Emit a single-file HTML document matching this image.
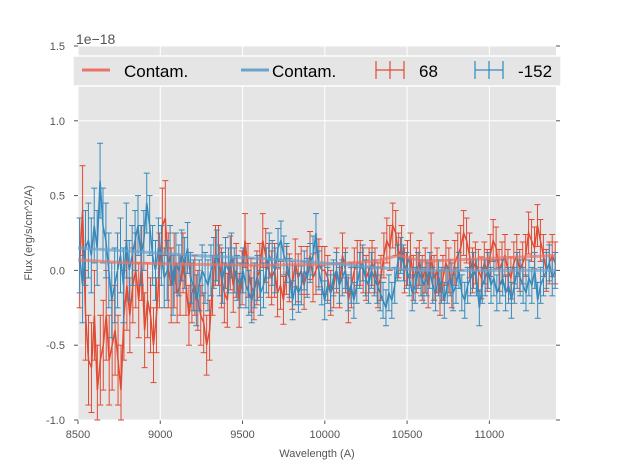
<!DOCTYPE html>
<html><head><meta charset="utf-8"><style>
html,body{margin:0;padding:0;background:#fff}
svg{display:block;font-family:"Liberation Sans","DejaVu Sans",sans-serif}
</style></head><body>
<svg id="chart" width="617" height="467" viewBox="0 0 617 467"></svg>
<script>
// ---- data (flux in 1e-18 erg/s/cm^2/A) ----
const xTicks=[8500,9000,9500,10000,10500,11000];
const yTicks=[-1.0,-0.5,0.0,0.5,1.0,1.5];
const yTickLabels=["−1.0","−0.5","0.0","0.5","1.0","1.5"];
const waveStart=8510, waveEnd=11400;
const red68=[0.05,0.4,-0.3,-0.6,-0.65,-0.3,-0.8,-0.6,
-0.5,-0.3,-0.6,-0.5,-0.4,-0.6,-0.8,-0.3,
-0.1,-0.3,-0.1,0.0,-0.2,0.05,-0.4,-0.2,-0.3,-0.5,-0.3,0.0,0.3,
0.35,0.0,-0.1,0.0,-0.15,-0.1,0.05,-0.1,-0.3,-0.15,-0.1,
-0.2,-0.3,-0.35,-0.5,-0.4,-0.1,0.1,0.1,-0.05,-0.15,-0.2,
0.05,-0.1,0.0,-0.2,-0.05,0.2,0.0,-0.1,-0.15,-0.05,0.0,
0.2,0.1,0.0,-0.05,0.0,-0.15,-0.1,-0.2,0.0,-0.05,-0.1,
0.05,-0.05,0.0,-0.1,0.0,0.1,-0.05,0.0,0.05,0.0,0.0,
-0.05,-0.15,-0.1,0.0,-0.1,0.1,0.0,-0.2,-0.1,0.0,0.05,
0.05,0.0,-0.05,0.0,0.05,0.0,-0.1,-0.05,0.1,0.2,0.15,
0.3,0.25,0.1,0.15,0.0,0.05,0.1,-0.05,0.0,0.05,-0.05,0.0,
-0.1,0.1,-0.05,0.0,-0.15,-0.05,0.05,0.0,-0.1,0.05,0.1,
0.15,0.25,0.2,0.1,0.0,0.05,0.0,-0.05,0.05,0.0,0.1,
0.2,0.15,0.0,0.05,0.1,0.0,-0.05,0.05,0.1,0.0,0.05,
0.1,0.25,0.2,0.15,0.3,0.2,0.1,0.0,0.05,0.1,0.05];
const blue152=[0.1,-0.1,0.15,0.2,0.1,0.3,0.15,
0.6,0.3,0.2,0.0,-0.2,-0.1,0.0,
0.1,-0.1,0.2,0.0,0.1,0.2,0.3,0.1,0.2,0.45,0.3,
0.1,0.0,0.15,0.1,-0.05,0.0,0.1,-0.1,0.05,0.0,0.1,
0.05,0.15,-0.05,-0.1,-0.2,-0.1,0.0,-0.05,-0.1,0.0,0.05,
0.1,0.0,-0.05,0.05,0.0,0.1,0.0,-0.05,-0.1,0.0,-0.1,
-0.15,-0.2,-0.1,-0.05,-0.15,-0.1,0.0,0.1,0.05,0.0,0.15,
0.2,0.1,0.05,-0.05,-0.2,-0.1,-0.15,-0.1,0.0,-0.05,0.05,
0.1,0.25,0.0,-0.1,-0.2,-0.1,-0.15,-0.05,0.0,-0.1,-0.05,
0.0,-0.15,-0.1,-0.2,-0.1,0.0,0.05,-0.05,-0.1,0.0,-0.05,
-0.1,-0.15,-0.2,-0.25,-0.15,-0.2,-0.1,0.05,0.1,0.05,0.0,
-0.05,-0.15,-0.1,0.0,-0.05,-0.1,-0.05,0.0,-0.1,-0.15,-0.05,
-0.1,-0.2,-0.1,-0.05,-0.15,-0.1,0.0,-0.15,-0.2,-0.1,-0.05,
0.0,-0.05,-0.25,-0.1,-0.05,0.0,-0.1,-0.05,-0.15,-0.1,-0.05,
-0.15,-0.1,-0.2,-0.1,0.0,-0.05,-0.1,-0.15,-0.05,-0.1,0.0,
-0.2,-0.1,-0.05,0.0,0.05,-0.05,0.0];
const errBinWave=[8500,8800,9100,9400,9700,10000,10300,10600,10900,11200];
const redErr=[0.3,0.25,0.2,0.18,0.16,0.15,0.15,0.15,0.14,0.14];
const blueErr=[0.25,0.2,0.17,0.15,0.13,0.12,0.12,0.12,0.12,0.12];
const contamWave=[8500,8800,9200,9600,10000,10300,10450,10600,11000,11400];
const redContam=[0.07,0.05,0.04,0.035,0.04,0.06,0.1,0.06,0.08,0.1];
const blueContam=[0.15,0.13,0.1,0.08,0.05,0.02,0.01,0.0,0.0,0.0];

const NS="http://www.w3.org/2000/svg";
const svg=document.getElementById('chart');
const L=78,R=556,T=46,B=420;
const xMin=8500,xMax=11405,yMin=-1.0,yMax=1.5;
const sx=v=>L+(v-xMin)/(xMax-xMin)*(R-L);
const sy=v=>B-(v-yMin)/(yMax-yMin)*(B-T);
function mk(tag,attrs,parent){const e=document.createElementNS(NS,tag);for(const k in attrs)e.setAttribute(k,attrs[k]);(parent||svg).appendChild(e);return e;}
function errAt(arr,w){let v=arr[0];for(let i=0;i<errBinWave.length;i++){if(w>=errBinWave[i])v=arr[i];}return v;}

const bg=mk('rect',{x:L,y:T,width:R-L,height:B-T,fill:'#e5e5e5'});


xTicks.forEach(t=>{
  const g=mk('line',{x1:sx(t),x2:sx(t),y1:T,y2:B,stroke:'#fff','stroke-width':1});
  
  
  mk('line',{x1:sx(t),x2:sx(t),y1:B,y2:B+4,stroke:'#555'});
  const lb=mk('text',{x:sx(t),y:B+18,'text-anchor':'middle','font-size':11,fill:'#555'});
  lb.textContent=t;
  
  
});
yTicks.forEach((t,i)=>{
  const g=mk('line',{x1:L,x2:R,y1:sy(t),y2:sy(t),stroke:'#fff','stroke-width':1});
  
  
  mk('line',{x1:L-4,x2:L,y1:sy(t),y2:sy(t),stroke:'#555'});
  mk('line',{x1:R,x2:R+4,y1:sy(t),y2:sy(t),stroke:'#555'});
  const lb=mk('text',{x:L-13,y:sy(t)+4,'text-anchor':'end','font-size':11,fill:'#555'});
  lb.textContent=yTickLabels[i].replace('−','-');
  
  
});

function contam(vals,color,name){
  const p=mk('polyline',{points:contamWave.map((w,i)=>sx(w)+','+sy(vals[i])).join(' '),fill:'none',stroke:color,'stroke-width':3,'stroke-opacity':0.7});
  
  
}
function series(vals,errs,color,name){
  const g=mk('g',{});
  
  
  const n=vals.length, step=(waveEnd-waveStart)/(n-1);
  const pts=[];
  vals.forEach((v,i)=>{
    const w=waveStart+i*step, x=sx(w), e=errAt(errs,w);
    const y1=sy(Math.max(v-e,yMin)), y2=sy(v+e);
    mk('line',{x1:x,x2:x,y1:y1,y2:y2,stroke:color,'stroke-width':1},g);
    mk('line',{x1:x-3,x2:x+3,y1:y1,y2:y1,stroke:color,'stroke-width':1},g);
    mk('line',{x1:x-3,x2:x+3,y1:y2,y2:y2,stroke:color,'stroke-width':1},g);
    pts.push(x+','+sy(v));
  });
  mk('polyline',{points:pts.join(' '),fill:'none',stroke:color,'stroke-width':1.5},g);
}
series(red68,redErr,'#e24a33','series-68');
series(blue152,blueErr,'#348abd','series-minus152');
contam(redContam,'#e8756a','contam-line-68');
contam(blueContam,'#6aa3cc','contam-line-minus152');
</script>
<svg style="position:absolute;left:0;top:0" width="617" height="467">
<text x="76" y="44" font-size="14" fill="#555">1e−18</text>
<text x="317" y="457" text-anchor="middle" font-size="11" fill="#555">Wavelength (A)</text>
<text transform="translate(32,233) rotate(-90)" text-anchor="middle" font-size="11" fill="#555">Flux (erg/s/cm^2/A)</text>
<g>
<rect x="73" y="56" width="488" height="30" fill="#e5e5e5" stroke="#fff" stroke-width="1.5"/>
<g>
<line x1="82" x2="110" y1="70" y2="70" stroke="#e8756a" stroke-width="3"/>
<text x="124" y="77" font-size="17" fill="#000">Contam.</text></g>
<g>
<line x1="241" x2="269" y1="70" y2="70" stroke="#6aa3cc" stroke-width="3"/>
<text x="272" y="77" font-size="17" fill="#000">Contam.</text></g>
<g stroke="#e24a33" stroke-width="1.2">
<line x1="376" x2="404" y1="70" y2="70"/><line x1="390" x2="390" y1="61" y2="79"/>
<line x1="376" x2="376" y1="61" y2="79"/><line x1="404" x2="404" y1="61" y2="79"/>
<text x="419" y="77" font-size="17" fill="#000" stroke="none">68</text></g>
<g stroke="#348abd" stroke-width="1.2">
<line x1="475" x2="503" y1="70" y2="70"/><line x1="489" x2="489" y1="61" y2="79"/>
<line x1="475" x2="475" y1="61" y2="79"/><line x1="503" x2="503" y1="61" y2="79"/>
<text x="518" y="77" font-size="17" fill="#000" stroke="none">-152</text></g>
</g>
</svg>
</body></html>
